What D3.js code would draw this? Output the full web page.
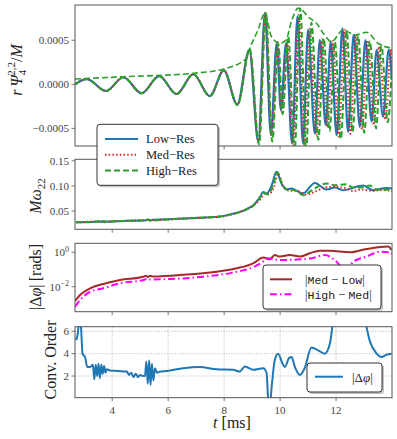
<!DOCTYPE html>
<html><head><meta charset="utf-8">
<script src="https://cdn.jsdelivr.net/npm/d3@7"></script>
<style>
body{margin:0;background:#fff;}
text{font-family:"Liberation Serif","DejaVu Serif",serif;}
</style></head>
<body><svg id="c" width="397" height="439"></svg>
<script>
// ---------- DATA ----------
const xTicks = [4, 6, 8, 10, 12];
const xTickLabels = ["4", "6", "8", "10", "12"];

// Panel 1: r Psi4 (units of 1e-4)
const psiTicks = [-5, 0, 5];
const psiTickLabels = ["\u22120.0005", "0.0000", "0.0005"];
const lowT = [2.67,3.09,3.78,4.40,5.05,5.68,6.30,6.90,7.49,7.99,8.47,8.90,9.22,9.46,9.67,9.88,10.03,10.21,10.43,10.62,10.82,11.00,11.24,11.42,11.63,11.81,12.02,12.23,12.43,12.63,12.85,13.05,13.27,13.45,13.68,13.88,14.0];
const lowPsi = [0.0,0.60,-0.76,0.80,-1.02,0.94,-1.10,1.14,-1.33,1.59,-2.30,3.90,-6.52,8.07,-5.76,4.66,-2.92,4.66,-6.70,7.68,-6.70,6.17,-5.57,5.03,-4.63,4.84,-5.76,6.36,-5.39,5.60,-4.82,5.03,-4.25,3.90,-3.68,3.90,0.5];
const medT = [2.67,3.09,3.78,4.40,5.05,5.68,6.30,6.90,7.49,7.99,8.48,8.91,9.24,9.48,9.70,9.91,10.06,10.25,10.47,10.67,10.87,11.06,11.30,11.49,11.70,11.88,12.09,12.31,12.51,12.71,12.93,13.13,13.35,13.54,13.77,13.96,14.0];
const medPsi = [0.0,0.60,-0.76,0.80,-1.02,0.94,-1.10,1.14,-1.33,1.59,-2.32,3.95,-6.60,8.10,-5.90,4.80,-3.10,4.80,-6.90,7.90,-6.90,6.30,-5.80,5.10,-4.90,4.90,-5.90,6.20,-5.60,5.60,-5.10,5.00,-4.60,4.30,-4.00,4.00,2.0];
const highT = [2.67,3.09,3.78,4.40,5.05,5.68,6.30,6.90,7.49,7.99,8.48,8.92,9.25,9.49,9.72,9.94,10.09,10.29,10.52,10.72,10.93,11.12,11.37,11.56,11.77,11.96,12.17,12.38,12.59,12.79,13.01,13.21,13.43,13.62,13.85,14.0];
const highPsi = [0.0,0.60,-0.76,0.80,-1.02,0.94,-1.10,1.14,-1.33,1.59,-2.35,3.95,-6.80,8.10,-6.50,4.60,-3.40,5.40,-7.50,8.60,-7.50,7.00,-6.30,5.20,-5.30,4.80,-6.20,6.00,-5.40,5.50,-5.50,4.90,-5.00,4.40,-4.30,2.5];
const envT = [2.67,4.40,6.90,7.99,8.80,8.90,9.21,9.46,9.69,9.99,10.21,10.42,10.65,11.06,11.30,11.54,11.84,12.25,12.67,13.09,13.50,14.0];
const envPsi = [0.60,0.86,1.25,1.74,2.95,3.90,6.17,8.07,5.41,4.66,5.03,7.30,8.64,7.50,6.93,5.80,4.84,6.17,5.60,5.91,4.66,4.09];

// Panel 2: M omega_22
const omTicks = [0.05, 0.10, 0.15];
const omTickLabels = ["0.05", "0.10", "0.15"];
const lowOmT = [2.70,3.40,3.55,3.62,3.70,3.78,4.50,5.20,5.30,5.38,5.45,6.20,7.10,7.85,8.30,8.56,8.80,9.04,9.28,9.40,9.52,9.70,9.87,10.05,10.23,10.41,10.82,11.24,11.66,11.96,12.25,12.97,13.32,13.80,14.0];
const lowOm = [0.0275,0.0285,0.0295,0.0280,0.0296,0.0287,0.0305,0.0318,0.0328,0.0314,0.0325,0.0340,0.0365,0.0390,0.0445,0.0484,0.0540,0.0617,0.0780,0.0880,0.0850,0.1014,0.1280,0.1047,0.0929,0.0948,0.0850,0.1060,0.0930,0.0970,0.0915,0.1008,0.0915,0.0960,0.0950];
const medOmT = [2.70,3.40,3.55,3.62,3.70,3.78,4.50,5.20,5.30,5.38,5.45,6.20,7.10,7.85,8.30,8.56,8.80,9.04,9.30,9.45,9.60,9.78,9.93,10.10,10.30,10.60,10.95,11.30,11.60,11.90,12.36,12.60,12.90,13.32,13.60,14.0];
const medOm = [0.0275,0.0290,0.0280,0.0298,0.0282,0.0292,0.0305,0.0320,0.0310,0.0328,0.0316,0.0340,0.0365,0.0390,0.0440,0.0480,0.0535,0.0610,0.0740,0.0850,0.0840,0.0980,0.1250,0.1000,0.0910,0.0900,0.0830,0.0900,0.0970,0.0980,0.0950,0.0900,0.0930,0.0900,0.0920,0.0900];
const highOmT = [2.70,3.40,3.50,3.57,3.64,3.72,3.80,4.50,5.20,5.28,5.35,5.42,5.50,6.20,7.10,7.85,8.30,8.56,8.80,9.04,9.28,9.42,9.56,9.74,9.90,10.08,10.26,10.50,10.85,11.10,11.66,11.96,12.36,12.60,12.90,13.20,13.44,14.0];
const highOm = [0.0275,0.0283,0.0300,0.0272,0.0302,0.0278,0.0292,0.0305,0.0316,0.0335,0.0308,0.0333,0.0318,0.0340,0.0365,0.0390,0.0440,0.0478,0.0530,0.0605,0.0760,0.0860,0.0830,0.1000,0.1270,0.1030,0.0930,0.0920,0.0815,0.0900,0.1047,0.1014,0.1034,0.0970,0.0970,0.1008,0.0930,0.0930];

// Panel 3: |Delta phi| [rads]
const dphiTicks = [1e-2, 1e0];
const dphiTickExp = ["\u22122", "0"];
const dphiT1 = [2.67,2.85,3.21,3.68,4.28,5.11,5.20,5.28,5.36,5.44,6.06,7.25,8.45,9.04,9.40,9.63,9.81,9.99,10.35,10.71,11.06,11.42,11.78,12.49,13.09,13.86,13.98];
const medLow = [0.00148,0.00331,0.0081,0.0145,0.0245,0.038,0.043,0.037,0.044,0.039,0.0437,0.060,0.117,0.229,0.49,0.39,0.69,0.56,0.69,0.56,0.87,1.23,1.23,1.0,1.55,2.14,1.35];
const dphiT2 = [2.67,2.85,3.21,3.68,4.28,5.11,5.20,5.28,5.36,6.06,7.25,8.45,9.04,9.40,9.52,9.99,10.71,11.12,11.60,12.02,12.37,12.61,13.09,13.56,13.92,14.0];
const highMed = [0.00069,0.0017,0.0051,0.0081,0.0158,0.0245,0.027,0.023,0.026,0.028,0.038,0.074,0.135,0.30,0.45,0.355,0.39,0.45,0.69,0.28,0.074,0.28,0.56,1.07,1.0,0.80];

// Panel 4: convergence order
const ordTicks = [2, 4, 6];
const ordTickLabels = ["2", "4", "6"];
const ordT = [2.71,2.77,2.82,2.88,2.94,3.03,3.11,3.21,3.31,3.36,3.41,3.46,3.51,3.56,3.61,3.66,3.71,3.76,3.81,3.92,4.20,4.52,4.60,4.68,4.76,4.84,4.92,4.99,5.10,5.17,5.22,5.27,5.32,5.37,5.42,5.47,5.53,5.60,5.71,5.95,6.54,7.13,7.73,8.32,8.56,8.74,9.04,9.40,9.52,9.57,9.64,9.70,9.81,9.93,10.09,10.17,10.32,10.41,10.53,10.71,10.88,11.12,11.36,11.60,11.78,11.90,12.40,13.03,13.21,13.45,13.62,13.80,13.98];
const ordV = [5.2,5.8,7.0,6.5,4.0,3.7,2.8,2.8,3.0,1.7,3.0,2.0,3.1,1.8,3.0,2.2,2.9,2.3,2.6,2.5,2.45,2.4,2.1,2.3,1.9,2.2,1.9,2.1,2.0,2.0,3.3,1.3,3.4,1.2,3.1,1.6,2.7,2.3,2.4,2.45,2.7,2.8,2.6,2.55,2.4,2.85,2.55,2.7,2.25,0.1,-0.5,1.05,3.4,4.0,3.1,2.8,3.6,3.7,2.8,2.1,2.7,4.55,4.3,4.0,4.9,7.0,11.0,7.0,5.1,4.0,3.7,3.9,4.0];

// ---------- DRAW ----------
const svg = d3.select("#c");
const L = 75, R = 392;
const x = d3.scaleLinear().domain([2.67, 14.0]).range([L, R]);
const frameCol = "#555", textCol = "#444";
const blue = "#1f77b4", red = "#d62728", green = "#2ca02c", brown = "#a52a2a", magenta = "#ff00ff";

const panels = [
  {top: 5, bottom: 146},
  {top: 159.3, bottom: 229.3},
  {top: 243.3, bottom: 311.7},
  {top: 326.7, bottom: 397.7}
];
const y1 = d3.scaleLinear().domain([-7.0, 9.0]).range([146, 5]);
const y2 = d3.scaleLinear().domain([0.0137, 0.153]).range([229.3, 159.3]);
const y3 = d3.scaleLog().domain([Math.pow(10, -3.45), Math.pow(10, 0.52)]).range([311.7, 243.3]);
const y4 = d3.scaleLinear().domain([0.06, 6.41]).range([397.7, 326.7]);

const defs = svg.append("defs");
panels.forEach((p, i) => {
  defs.append("clipPath").attr("id", "clip" + i).append("rect")
    .attr("x", L).attr("y", p.top).attr("width", R - L).attr("height", p.bottom - p.top);
});

function zip(ts, vs) { return ts.map((t, i) => [t, vs[i]]); }

// grid for panel 4
const g4grid = svg.append("g");
xTicks.forEach(t => g4grid.append("line").attr("x1", x(t)).attr("x2", x(t)).attr("y1", 326.7).attr("y2", 397.7)
  .attr("stroke", "#b0b0b0").attr("stroke-width", 0.8).attr("stroke-dasharray", "1.2,1.5"));
ordTicks.forEach(v => g4grid.append("line").attr("x1", L).attr("x2", R).attr("y1", y4(v)).attr("y2", y4(v))
  .attr("stroke", "#b0b0b0").attr("stroke-width", 0.8).attr("stroke-dasharray", "1.2,1.5"));

function drawLine(i, data, ys, opts, curve) {
  svg.append("path").datum(data)
    .attr("clip-path", "url(#clip" + i + ")")
    .attr("fill", "none")
    .attr("stroke", opts.color)
    .attr("stroke-width", opts.w || 2)
    .attr("stroke-dasharray", opts.dash || null)
    .attr("stroke-linecap", opts.cap || "butt")
    .attr("d", d3.line().curve(curve || d3.curveMonotoneX).x(d => x(d[0])).y(d => ys(d[1])));
}

// Panel 1
drawLine(0, zip(lowT, lowPsi), y1, {color: blue, w: 2.2});
drawLine(0, zip(medT, medPsi), y1, {color: red, w: 2, dash: "1.5,2.2"});
drawLine(0, zip(highT, highPsi), y1, {color: green, w: 2, dash: "6,3"});
drawLine(0, zip(envT, envPsi), y1, {color: green, w: 1.6, dash: "6,3"});

// Panel 2
drawLine(1, zip(lowOmT, lowOm), y2, {color: blue, w: 2});
drawLine(1, zip(medOmT, medOm), y2, {color: red, w: 2, dash: "1.5,2.2"});
drawLine(1, zip(highOmT, highOm), y2, {color: green, w: 2, dash: "6,3"});

// Panel 3
drawLine(2, zip(dphiT1, medLow), y3, {color: brown, w: 2});
drawLine(2, zip(dphiT2, highMed), y3, {color: magenta, w: 2, dash: "7,3,1.5,3"});

// Panel 4
drawLine(3, zip(ordT, ordV), y4, {color: blue, w: 2});

// Frames and ticks
panels.forEach((p, i) => {
  svg.append("rect").attr("x", L).attr("y", p.top).attr("width", R - L).attr("height", p.bottom - p.top)
    .attr("fill", "none").attr("stroke", frameCol).attr("stroke-width", 1);
  xTicks.forEach(t => svg.append("line").attr("x1", x(t)).attr("x2", x(t)).attr("y1", p.bottom).attr("y2", p.bottom + 3.5)
    .attr("stroke", frameCol).attr("stroke-width", 0.8));
});
function yTicks(ys, vals, labels) {
  vals.forEach((v, k) => {
    const yy = ys(v);
    svg.append("line").attr("x1", L - 3.5).attr("x2", L).attr("y1", yy).attr("y2", yy)
      .attr("stroke", frameCol).attr("stroke-width", 0.8);
    if (labels) svg.append("text").attr("x", L - 6).attr("y", yy + 3.8).attr("text-anchor", "end")
      .attr("font-size", 11).attr("fill", textCol).text(labels[k]);
  });
}
yTicks(y1, psiTicks, psiTickLabels);
yTicks(y2, omTicks, omTickLabels);
yTicks(y3, dphiTicks, null);
yTicks(y4, ordTicks, ordTickLabels);
dphiTicks.forEach((v, k) => {
  const t = svg.append("text").attr("x", L - 6).attr("y", y3(v) + 3.8).attr("text-anchor", "end")
    .attr("font-size", 11).attr("fill", textCol);
  t.append("tspan").text("10");
  t.append("tspan").attr("dy", -4.5).attr("font-size", 8).text(dphiTickExp[k]);
});
xTicks.forEach((t, k) => svg.append("text").attr("x", x(t)).attr("y", 413.5).attr("text-anchor", "middle")
  .attr("font-size", 11).attr("fill", textCol).text(xTickLabels[k]));

// Axis labels
const xl = svg.append("text").attr("x", 232).attr("y", 428).attr("text-anchor", "middle").attr("font-size", 16).attr("fill", "#222");
xl.append("tspan").attr("font-style", "italic").text("t");
xl.append("tspan").text(" [ms]");

function ylab(cx, cy, build) {
  const t = svg.append("text").attr("transform", `translate(${cx},${cy}) rotate(-90)`)
    .attr("text-anchor", "middle").attr("font-size", 16).attr("fill", "#222");
  build(t);
}
ylab(22, 70, t => {
  t.append("tspan").attr("font-style", "italic").text("r\u2009\u03A8");
  t.append("tspan").attr("dy", 4).attr("font-size", 11).text("4");
  t.append("tspan").attr("dy", -11).attr("dx", -6).attr("font-size", 11).text("2,2");
  t.append("tspan").attr("dy", 7).text("/");
  t.append("tspan").attr("font-style", "italic").text("M");
});
ylab(41, 196, t => {
  t.append("tspan").attr("font-style", "italic").text("M\u03C9");
  t.append("tspan").attr("dy", 4).attr("font-size", 11).text("22");
});
ylab(41, 277, t => {
  t.append("tspan").text("|\u0394");
  t.append("tspan").attr("font-style", "italic").text("\u03C6");
  t.append("tspan").text("|\u2009[rads]");
});
ylab(56, 360, t => t.text("Conv. Order"));

// Legends
function legendBox(x0, y0, w, h) {
  svg.append("rect").attr("x", x0 + 2).attr("y", y0 + 2).attr("width", w).attr("height", h).attr("rx", 3)
    .attr("fill", "#888").attr("opacity", 0.5);
  svg.append("rect").attr("x", x0).attr("y", y0).attr("width", w).attr("height", h).attr("rx", 3)
    .attr("fill", "#fff").attr("stroke", "#333").attr("stroke-width", 1);
}
function legendLine(x1, x2, yy, opts) {
  svg.append("line").attr("x1", x1).attr("x2", x2).attr("y1", yy).attr("y2", yy)
    .attr("stroke", opts.color).attr("stroke-width", 2).attr("stroke-dasharray", opts.dash || null);
}
const mono = "'Liberation Mono','DejaVu Sans Mono',monospace";
legendBox(97, 124.3, 121, 61);
const leg1 = [
  {name: "Low\u2212Res", color: blue},
  {name: "Med\u2212Res", color: red, dash: "1.5,2.2"},
  {name: "High\u2212Res", color: green, dash: "6,3"}
];
leg1.forEach((d, k) => {
  const yy = 139 + k * 15.8;
  legendLine(105, 138, yy, d);
  svg.append("text").attr("x", 146).attr("y", yy + 4.3).attr("font-family", mono).attr("font-size", 12.5)
    .attr("fill", "#222").text(d.name);
});

legendBox(263, 265, 118, 44);
const leg2 = [
  {a: "Med", b: "Low", color: brown},
  {a: "High", b: "Med", color: magenta, dash: "7,3,1.5,3"}
];
leg2.forEach((d, k) => {
  const yy = 279.3 + k * 15;
  legendLine(270, 292, yy, d);
  const t = svg.append("text").attr("x", 305).attr("y", yy + 4.3).attr("font-size", 12.5).attr("fill", "#222");
  t.append("tspan").text("|");
  t.append("tspan").attr("font-family", mono).attr("font-size", 11.5).text(d.a);
  t.append("tspan").text(" \u2212 ");
  t.append("tspan").attr("font-family", mono).attr("font-size", 11.5).text(d.b);
  t.append("tspan").text("|");
});

legendBox(307, 363, 75, 29);
legendLine(315, 343, 376.7, {color: blue});
const t4 = svg.append("text").attr("x", 352).attr("y", 381.5).attr("font-size", 13).attr("fill", "#222");
t4.append("tspan").text("|\u0394");
t4.append("tspan").attr("font-style", "italic").text("\u03C6");
t4.append("tspan").text("|");
</script></body></html>
